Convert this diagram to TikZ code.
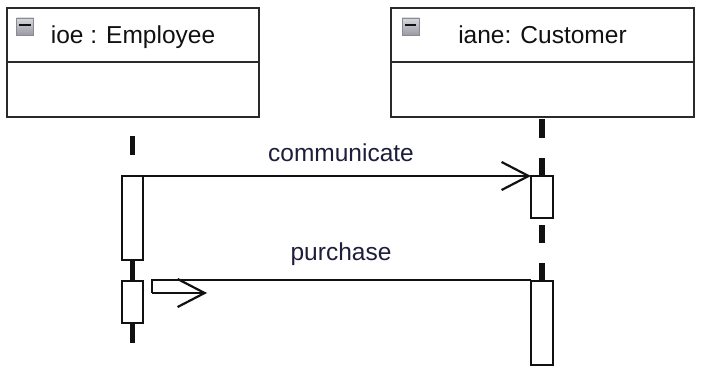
\documentclass[tikz,border=0pt]{standalone}
\usepackage{fontspec}
\setmainfont{Liberation Sans}
\usepackage{xcolor}
\definecolor{umlInk}{HTML}{111111}
\definecolor{umlFrame}{HTML}{2A2A2A}
\definecolor{umlLabel}{HTML}{1E1E3C}
\definecolor{iconLight}{HTML}{D8D8DE}
\definecolor{iconDark}{HTML}{9A9AA4}
\definecolor{iconEdge}{HTML}{8A8A94}
\usetikzlibrary{positioning, arrows.meta, calc}

\begin{document}
\begin{tikzpicture}[
  x=1pt, y=-1pt,
  every node/.style={font=\fontsize{24.5}{29}\selectfont, text=umlInk},
  objhead/.style={rectangle, draw=umlFrame, line width=2pt, outer sep=0pt,
                  inner sep=0pt, minimum height=54pt, fill=white},
  objbody/.style={rectangle, draw=umlFrame, line width=2pt, outer sep=0pt,
                  inner sep=0pt, minimum height=55pt, fill=white},
  objname/.style={inner sep=0pt, anchor=base},
  icon/.style={rectangle, draw=iconEdge, line width=0.8pt, minimum size=17pt,
               inner sep=0pt, top color=iconLight, bottom color=iconDark},
  lifeline/.style={line width=5.5pt, color=umlInk},
  act/.style={rectangle, draw=umlInk, line width=1.8pt, fill=white,
              minimum width=21pt, inner sep=0pt, outer sep=0pt},
  msg/.style={line width=1.8pt, color=umlInk,
              -{Straight Barb[length=27pt, width=28pt, line width=2.2pt]}},
  msglabel/.style={text=umlLabel, inner sep=0pt, anchor=base},
]
\useasboundingbox (0,0) rectangle (710,374);

% Objects
\node[objhead, minimum width=252pt] (emp) at (133,35) {};
\node[objbody, minimum width=252pt, below=0pt of emp] (empbody) {};
\node[objname] (empname) at (133,44) {ioe : Employee};
\node[objhead, minimum width=303pt] (cust) at (542.5,35) {};
\node[objbody, minimum width=303pt, below=0pt of cust] (custbody) {};
\node[objname] (custname) at (542.5,44) {iane: Customer};

% Collapse icons
\foreach \ic/\xx in {empicon/25, custicon/410.5} {
  \node[icon] (\ic) at (\xx,26.5) {};
  \draw[line width=2pt, color=umlInk] ([xshift=3pt,yshift=1pt]\ic.west)
        -- ([xshift=-3pt,yshift=1pt]\ic.east);
}

% Lifelines
\foreach \ya/\yb in {136/155, 260/281, 323/343}
  \draw[lifeline] (132.5,\ya) -- (132.5,\yb);
\foreach \ya/\yb in {119/138, 158/177, 225/243, 263/281}
  \draw[lifeline] (542,\ya) -- (542,\yb);

% Activations
\node[act, minimum height=84pt] (empact1) at (132.5,218) {};
\node[act, minimum height=42pt] (empact2) at (132.5,302) {};
\node[act, minimum height=42pt, minimum width=22pt] (custact1) at (542,197) {};
\node[act, minimum height=84pt, minimum width=22pt] (custact2) at (542,323) {};

% Messages
\draw[msg] (empact1.north east) -- (custact1.north west);
\coordinate (purchbendA) at (152,280);
\coordinate (purchbendB) at (152,293);
\coordinate (purchend)   at (207,293);
\draw[line width=1.8pt, color=umlInk] ([yshift=1pt]custact2.north west)
      -- (purchbendA) -- (purchbendB);
\draw[msg] (purchbendB) -- (purchend);

% Labels
\node[msglabel] (commlbl) at (341,162) {communicate};
\node[msglabel] (purchlbl) at (341,261) {purchase};

\end{tikzpicture}
\end{document}
